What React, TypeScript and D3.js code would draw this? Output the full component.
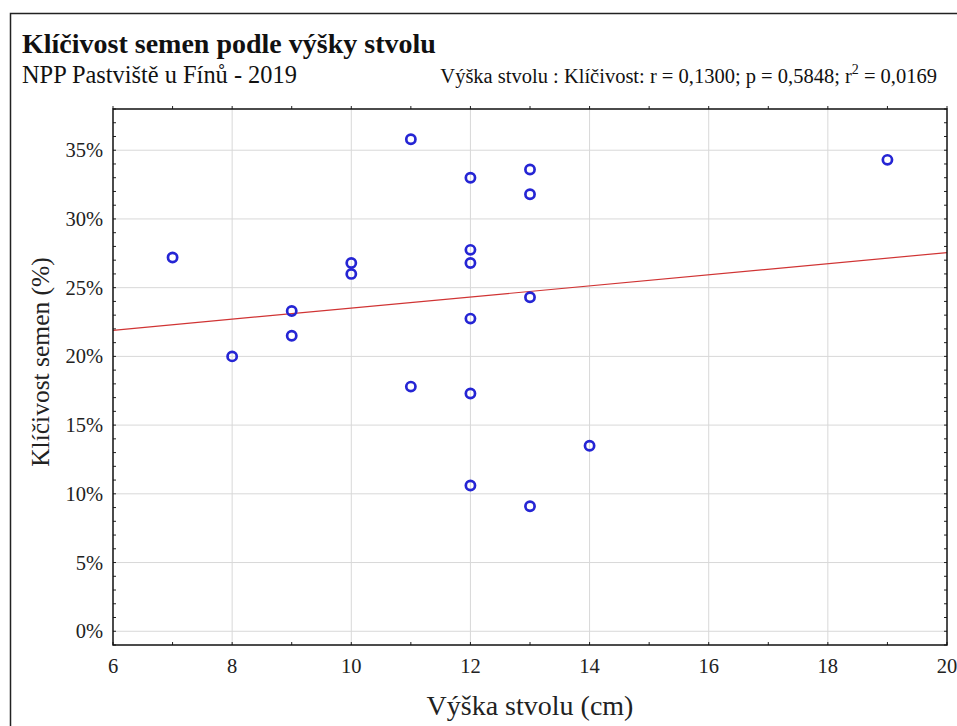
import React, { useEffect, useRef } from 'react';
import * as d3 from 'd3';

// Výška stvolu (cm) and klíčivost semen (%)
const heights = [7, 8, 9, 9, 10, 10, 11, 11, 12, 12, 12, 12, 12, 12, 13, 13, 13, 13, 14, 19];
const germination = [27.2, 20.0, 23.3, 21.5, 26.8, 26.0, 35.8, 17.8, 33.0, 27.75, 26.8, 22.75, 17.3, 10.6, 33.6, 31.8, 24.3, 9.1, 13.5, 34.3];

const xTicks = [6, 8, 10, 12, 14, 16, 18, 20];
const yTicks = [0, 5, 10, 15, 20, 25, 30, 35];

const title = 'Klíčivost semen podle výšky stvolu';
const subtitle = 'NPP Pastviště u Fínů - 2019';
const xLabel = 'Výška stvolu (cm)';
const yLabel = 'Klíčivost semen (%)';

const App: React.FC = () => {
  const svgRef = useRef<SVGSVGElement>(null);

  useEffect(() => {
    if (!svgRef.current) return;
    const svg = d3.select(svgRef.current);
    svg.selectAll('*').remove();

    const width = 957;
    const height = 726;
    const plot = { left: 113, right: 947, top: 109, bottom: 645 };
    const font = 'Liberation Serif, serif';

    const x = d3.scaleLinear().domain([6, 20]).range([plot.left, plot.right]);
    const y = d3.scaleLinear().domain([-1, 38]).range([plot.bottom, plot.top]);

    svg.append('rect')
      .attr('width', width).attr('height', height).attr('fill', '#fff');

    // outer frame
    svg.append('rect')
      .attr('x', 10.5).attr('y', 13.5)
      .attr('width', 980).attr('height', 760)
      .attr('fill', 'none').attr('stroke', '#222').attr('stroke-width', 1.5);

    // grid
    svg.append('g').selectAll('line').data(xTicks.slice(1, -1)).enter().append('line')
      .attr('x1', d => x(d)).attr('x2', d => x(d))
      .attr('y1', plot.top).attr('y2', plot.bottom)
      .attr('stroke', '#d8d8d8').attr('stroke-width', 1);
    svg.append('g').selectAll('line').data(yTicks).enter().append('line')
      .attr('x1', plot.left).attr('x2', plot.right)
      .attr('y1', d => y(d)).attr('y2', d => y(d))
      .attr('stroke', '#d8d8d8').attr('stroke-width', 1);

    // minor ticks (every unit / every percent)
    const xMinor = d3.range(6, 21, 1);
    const yMinor = d3.range(-1, 39, 1);
    const ticks = svg.append('g').attr('stroke', '#222').attr('stroke-width', 1);
    ticks.selectAll('.tb').data(xMinor).enter().append('line')
      .attr('x1', d => x(d)).attr('x2', d => x(d))
      .attr('y1', plot.bottom).attr('y2', plot.bottom - 3);
    ticks.selectAll('.tt').data(xMinor).enter().append('line')
      .attr('x1', d => x(d)).attr('x2', d => x(d))
      .attr('y1', plot.top).attr('y2', plot.top - 3);
    ticks.selectAll('.tl').data(yMinor).enter().append('line')
      .attr('x1', plot.left).attr('x2', plot.left + 3)
      .attr('y1', d => y(d)).attr('y2', d => y(d));
    ticks.selectAll('.tr').data(yMinor).enter().append('line')
      .attr('x1', plot.right).attr('x2', plot.right - 3)
      .attr('y1', d => y(d)).attr('y2', d => y(d));

    // regression line (least squares)
    const mx = d3.mean(heights)!;
    const my = d3.mean(germination)!;
    let sxy = 0, sxx = 0;
    heights.forEach((h, i) => {
      sxy += (h - mx) * (germination[i] - my);
      sxx += (h - mx) * (h - mx);
    });
    const slope = sxy / sxx;
    const intercept = my - slope * mx;
    const fit = x.domain().map(v => ({ h: v, g: intercept + slope * v }));
    svg.append('path')
      .datum(fit)
      .attr('fill', 'none')
      .attr('stroke', '#d03434')
      .attr('stroke-width', 1.2)
      .attr('d', d3.line<{ h: number; g: number }>().x(d => x(d.h)).y(d => y(d.g)));

    // points
    svg.append('g').selectAll('circle')
      .data(heights.map((h, i) => ({ h, g: germination[i] })))
      .enter().append('circle')
      .attr('cx', d => x(d.h)).attr('cy', d => y(d.g))
      .attr('r', 4.6)
      .attr('fill', 'none')
      .attr('stroke', '#2525d4')
      .attr('stroke-width', 2.7);

    // plot frame
    svg.append('rect')
      .attr('x', plot.left).attr('y', plot.top)
      .attr('width', plot.right - plot.left).attr('height', plot.bottom - plot.top)
      .attr('fill', 'none').attr('stroke', '#111').attr('stroke-width', 1.5);

    // tick labels
    svg.append('g').selectAll('text').data(xTicks).enter().append('text')
      .attr('x', d => x(d)).attr('y', 673)
      .attr('text-anchor', 'middle')
      .style('font-family', font).style('font-size', '20.5px').attr('fill', '#222')
      .text(d => d3.format('d')(d));
    svg.append('g').selectAll('text').data(yTicks).enter().append('text')
      .attr('x', 103).attr('y', d => y(d) + 7)
      .attr('text-anchor', 'end')
      .style('font-family', font).style('font-size', '20.5px').attr('fill', '#222')
      .text(d => `${d}%`);

    // axis titles
    svg.append('text')
      .attr('x', (plot.left + plot.right) / 2).attr('y', 715)
      .attr('text-anchor', 'middle')
      .style('font-family', font).style('font-size', '28px').attr('fill', '#222')
      .text(xLabel);
    svg.append('text')
      .attr('transform', `translate(49, 362) rotate(-90)`)
      .attr('text-anchor', 'middle')
      .style('font-family', font).style('font-size', '25.5px').attr('fill', '#222')
      .text(yLabel);

    // titles
    svg.append('text')
      .attr('x', 22).attr('y', 53)
      .style('font-family', font).style('font-size', '28px').style('font-weight', 'bold').attr('fill', '#111')
      .text(title);
    svg.append('text')
      .attr('x', 22).attr('y', 83)
      .style('font-family', font).style('font-size', '24.4px').attr('fill', '#111')
      .text(subtitle);

    const stats = svg.append('text')
      .attr('x', 937).attr('y', 83)
      .attr('text-anchor', 'end')
      .style('font-family', font).style('font-size', '20.5px').attr('fill', '#111');
    stats.append('tspan').text('Výška stvolu : Klíčivost: r = 0,1300; p = 0,5848; r');
    stats.append('tspan').attr('dy', -9).style('font-size', '14px').text('2');
    stats.append('tspan').attr('dy', 9).text(' = 0,0169');
  }, []);

  return (
    <svg
      ref={svgRef}
      width={957}
      height={726}
      viewBox="0 0 957 726"
      style={{ position: 'absolute', left: 0, top: 0, display: 'block' }}
    />
  );
};

export default App;
